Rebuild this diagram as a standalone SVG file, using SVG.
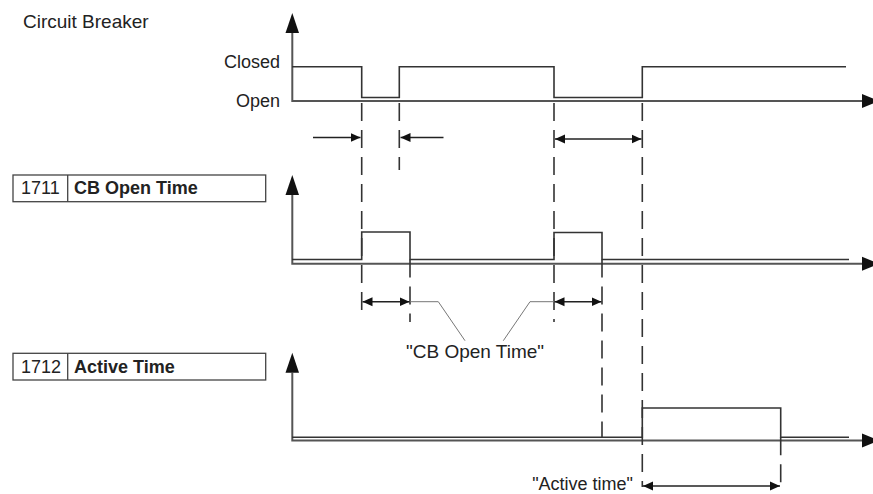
<svg xmlns="http://www.w3.org/2000/svg" width="873" height="494" viewBox="0 0 873 494">
<style>
.txt{font-family:"Liberation Sans",Arial,sans-serif;font-size:18px;fill:#222}
.lg{font-size:19px}
.b{font-weight:bold}
.axis{stroke:#555;stroke-width:2;fill:none}
.ahd{fill:#111}
.sig{stroke:#333;stroke-width:1.6;fill:none}
.dash{stroke:#333;stroke-width:1.6;stroke-dasharray:18 9;fill:none}
.dim{stroke:#222;stroke-width:1.5;fill:none}
.lead{stroke:#777;stroke-width:1;fill:none}
.box{fill:#fff;stroke:#444;stroke-width:1.3}
</style>
<defs>
<marker id="ah" markerUnits="userSpaceOnUse" markerWidth="10" markerHeight="10" viewBox="0 0 10 10" refX="10" refY="5" orient="auto-start-reverse"><path d="M0,0.5 L10,5 L0,9.5z" fill="#111"/></marker>
</defs>
<rect width="873" height="494" fill="#fff"/>

<g id="cb-signal">
<text class="txt lg" x="23" y="28">Circuit Breaker</text>
<text class="txt" x="280" y="68" text-anchor="end">Closed</text>
<text class="txt" x="280" y="107" text-anchor="end">Open</text>
<path class="axis" d="M292.3,33 V101 H863"/>
<polygon class="ahd" points="292.3,13 285.5,33 299,33"/>
<polygon class="ahd" points="862,94 879,101 862,108"/>
<path class="sig" d="M292,66.7 H361.7 V97.5 H399.3 V66.7 H554 V97.5 H642.3 V66.7 H846"/>
</g>

<g id="label-1711">
<rect class="box" x="13" y="175" width="252.7" height="26.7"/>
<line class="box" x1="67.7" y1="175" x2="67.7" y2="201.7"/>
<text class="txt" x="21" y="194">1711</text>
<text class="txt b" x="74" y="194">CB Open Time</text>
</g>

<g id="open-time-signal">
<path class="axis" d="M292.3,195 V263.7 H863"/>
<polygon class="ahd" points="292.3,175 285.5,195 299,195"/>
<polygon class="ahd" points="862,256.7 879,263.7 862,270.7"/>
<path class="sig" d="M292,259.5 H361.7 V232 H410 V259.5 H554 V232.5 H602 V259.5 H849"/>
</g>

<g id="label-1712">
<rect class="box" x="13" y="353.3" width="252.7" height="26.7"/>
<line class="box" x1="67.7" y1="353.3" x2="67.7" y2="380"/>
<text class="txt" x="21" y="372.5">1712</text>
<text class="txt b" x="74" y="372.5">Active Time</text>
</g>

<g id="active-time-signal">
<path class="axis" d="M292.3,372.7 V440.5 H863"/>
<polygon class="ahd" points="292.3,352.7 285.5,372.7 299,372.7"/>
<polygon class="ahd" points="862,433.5 879,440.5 862,447.5"/>
<path class="sig" d="M292,437.3 H642.3 V408 H780.7 V437.3 H849"/>
</g>

<g id="connectors">
<line class="dash" x1="361.7" y1="101" x2="361.7" y2="315" stroke-dashoffset="-2"/>
<line class="dash" x1="399.3" y1="101" x2="399.3" y2="170" stroke-dashoffset="-2"/>
<line class="dash" x1="554" y1="101" x2="554" y2="322" stroke-dashoffset="-2"/>
<line class="dash" x1="642.3" y1="101" x2="642.3" y2="487" stroke-dashoffset="-2"/>
<line class="dash" x1="410" y1="259.5" x2="410" y2="322"/>
<line class="dash" x1="602" y1="259.5" x2="602" y2="437.3"/>
<line class="dash" x1="780.7" y1="437.3" x2="780.7" y2="486" stroke-dasharray="22 10"/>

<line class="dim" x1="313" y1="137.5" x2="360.5" y2="137.5" marker-end="url(#ah)"/>
<line class="dim" x1="443.5" y1="137.5" x2="400.5" y2="137.5" marker-end="url(#ah)"/>
<line class="dim" x1="555" y1="139" x2="641.5" y2="139" marker-start="url(#ah)" marker-end="url(#ah)"/>
<line class="dim" x1="362.5" y1="301.7" x2="409.5" y2="301.7" marker-start="url(#ah)" marker-end="url(#ah)"/>
<line class="dim" x1="554.5" y1="301.7" x2="601.5" y2="301.7" marker-start="url(#ah)" marker-end="url(#ah)"/>
<line class="dim" x1="643" y1="486" x2="780" y2="486" marker-start="url(#ah)" marker-end="url(#ah)"/>

<polyline class="lead" points="410,301.7 438.3,301.7 465,340.7"/>
<polyline class="lead" points="554,301.7 530,301.7 503.3,340.7"/>
</g>

<g id="annotations">
<text class="txt lg" x="406" y="358">"CB Open Time"</text>
<text class="txt" x="633" y="490" text-anchor="end">"Active time"</text>
</g>
</svg>
